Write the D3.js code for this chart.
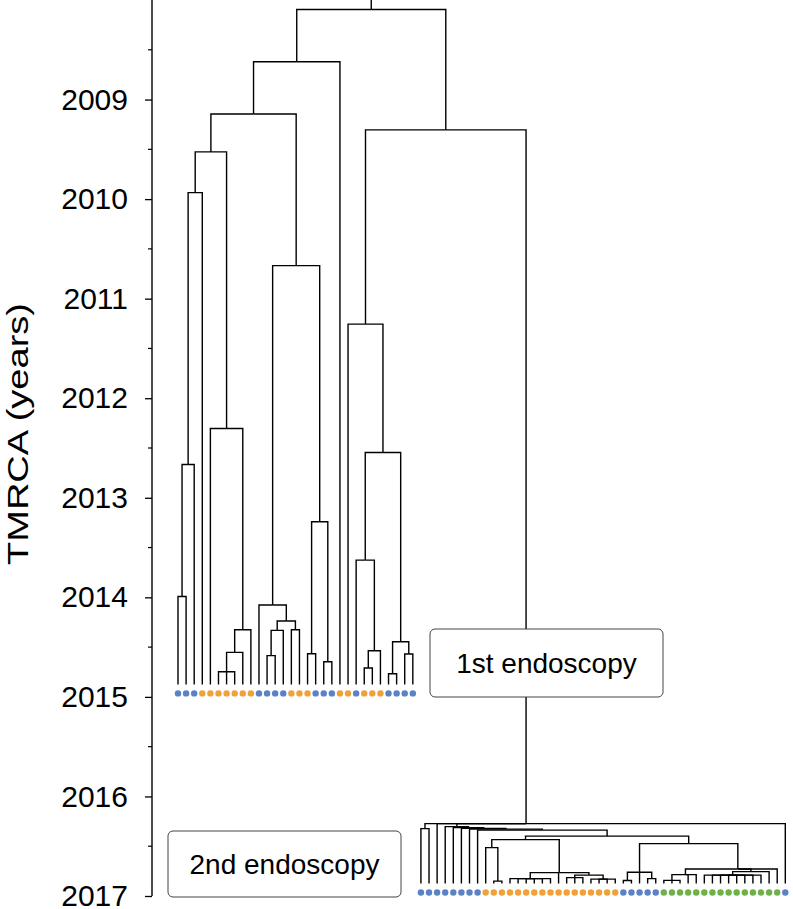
<!DOCTYPE html>
<html><head><meta charset="utf-8">
<script src="https://cdn.jsdelivr.net/npm/d3@7"></script>
<style>body{margin:0;background:#fff}svg{display:block}</style>
</head><body>
<svg id="chart" width="793" height="909"></svg>
<script>
// ---------- data ----------
const yearTicks = [2009, 2010, 2011, 2012, 2013, 2014, 2015, 2016, 2017];
const yearDomain = [2008, 2017];
const axisTitle = "TMRCA (years)";
const boxLabels = ["1st endoscopy", "2nd endoscopy"];
const sampleYears = [2015, 2017];            // sampling date of endoscopy 1 and 2

// internal nodes: [id, parent, year of most recent common ancestor]
const clades = [
  ["root", null, 2008.095],
  ["n1", "root", 2008.62], ["n2", "n1", 2009.145], ["n3", "n2", 2009.526],
  ["n4", "n3", 2009.935], ["n5", "n4", 2012.666], ["n6", "n5", 2013.991],
  ["n7", "n3", 2012.304], ["n8", "n7", 2014.325], ["n9", "n8", 2014.553], ["n10", "n9", 2014.747],
  ["n11", "n2", 2010.668], ["n12", "n11", 2014.077], ["n13", "n12", 2014.238], ["n14", "n13", 2014.332],
  ["n15", "n14", 2014.586], ["n16", "n13", 2014.325], ["n17", "n11", 2013.241],
  ["n18", "n17", 2014.566], ["n19", "n17", 2014.647],
  ["n20", "root", 2009.305], ["n21", "n20", 2011.256], ["n22", "n21", 2012.545], ["n23", "n22", 2013.626],
  ["n24", "n23", 2014.536], ["n25", "n24", 2014.71], ["n26", "n22", 2014.446],
  ["n27", "n26", 2014.767], ["n28", "n26", 2014.569],
  ["t", "n20", 2016.273], ["a", "t", 2016.323], ["f5", "t", 2016.303], ["f4", "f5", 2016.313],
  ["f3", "f4", 2016.321], ["f2", "f3", 2016.328], ["f", "f2", 2016.338], ["e", "f", 2016.399],
  ["g", "e", 2016.434], ["g1", "g", 2016.514], ["g2", "g1", 2016.851], ["r", "g", 2016.765],
  ["q", "r", 2016.825], ["s", "r", 2016.79], ["s1", "s", 2016.815], ["s2", "s", 2016.83],
  ["h", "e", 2016.474], ["v", "h", 2016.762], ["w", "v", 2016.845], ["x", "v", 2016.825],
  ["y", "h", 2016.729], ["z1", "y", 2016.785], ["p1", "z1", 2016.843], ["z2", "y", 2016.755], ["zm", "z2", 2016.79]
];

// leaves in display order: parent clade
const leafParents = [
  "n6","n6","n5","n4","n7","n10","n10","n10","n9","n8",
  "n12","n15","n15","n14","n16","n16","n18","n18","n19","n19",
  "n1","n21","n23","n25","n25","n24","n27","n27","n28","n28",
  "a","a","t","f5","f4","f3","f2","f","g1","g2","g2",
  "q","q","q","q","q","q","r","s1","s1","s1","s2","s2","s2","s2",
  "w","w","v","x","x","p1","p1","p1","z1","z1",
  "zm","zm","zm","zm","zm","zm","zm","zm","z2","y","t"
];
// leaf colour group: B = blue, O = orange, G = green
const leafGroups = [
  "B","B","B","O","O","O","O","O","O","O","B","B","B","B","O","O","O","B","B","B",
  "O","O","B","O","O","O","B","B","B","B",
  "B","B","B","B","B","B","B","B",
  "O","O","O","O","O","O","O","O","O","O","O","O","O","O","O","O","O",
  "B","B","B","B","B",
  "G","G","G","G","G","G","G","G","G","G","G","G","G","G","G",
  "B"
];
// which endoscopy each leaf comes from
const leafVisit = leafParents.map((p, i) => i < 30 ? 1 : 2);

// ---------- drawing ----------
const svg = d3.select("#chart");
const FONT = "'Liberation Sans', Arial, Helvetica, sans-serif";
const colors = {B: "#5b82c6", O: "#f0a23a", G: "#6fb04a"};

const y = d3.scaleLinear().domain(yearDomain).range([0, 896]);
const x = d3.scaleLinear().domain([0, leafParents.length - 1]).range([178, 785.3]);

const rows = clades.map(d => ({id: d[0], parent: d[1], year: d[2]}))
  .concat(leafParents.map((p, i) => ({id: "L" + i, parent: p, leaf: i, group: leafGroups[i], visit: leafVisit[i]})));
const root = d3.stratify().id(d => d.id).parentId(d => d.parent)(rows);

root.eachAfter(n => {
  if (!n.children) { n.order = n.data.leaf; }
  else { n.children.sort((a, b) => a.order - b.order); n.order = d3.min(n.children, c => c.order); }
});
root.eachAfter(n => {
  if (!n.children) {
    n.x = x(n.data.leaf);
    n.dotY = y(sampleYears[n.data.visit - 1]) - 3.5;
    n.yy = n.dotY - 9;
  } else {
    n.x = d3.mean(n.children, c => c.x);
    n.yy = y(n.data.year);
  }
});

// axis
const axis = d3.axisLeft(y).tickValues(yearTicks).tickFormat(d3.format("d")).tickSize(7).tickPadding(17);
const gA = svg.append("g").attr("transform", "translate(152,0)").call(axis);
gA.select(".domain").attr("d", `M0,${y(yearDomain[0])}V${y(yearDomain[1])}`).attr("stroke", "#000").attr("stroke-width", 1.4);
gA.selectAll(".tick line").attr("stroke", "#000").attr("stroke-width", 1.3);
gA.selectAll(".tick text").attr("font-family", FONT).attr("font-size", 30).attr("fill", "#000");
const minor = d3.range(yearDomain[0] + 0.5, yearDomain[1], 1);
gA.selectAll(".minor").data(minor).enter().append("line")
  .attr("x1", -4).attr("x2", 0).attr("y1", d => y(d)).attr("y2", d => y(d))
  .attr("stroke", "#000").attr("stroke-width", 1.2);

svg.append("text").attr("transform", `translate(28,${434}) rotate(-90)`)
  .attr("text-anchor", "middle").attr("font-family", FONT).attr("font-size", 30)
  .attr("textLength", 262).attr("lengthAdjust", "spacingAndGlyphs")
  .text(axisTitle);

// tree
const g = svg.append("g").attr("fill", "none").attr("stroke", "#000").attr("stroke-width", 1.4);
g.selectAll("path.link").data(root.descendants().filter(n => n.parent)).enter().append("path")
  .attr("class", "link")
  .attr("d", n => `M${n.x},${n.yy}V${n.parent.yy}H${n.parent.x}`);
g.append("path").attr("d", `M${root.x},${root.yy}V${y(yearDomain[0])}`);

svg.append("g").selectAll("circle").data(root.leaves()).enter().append("circle")
  .attr("cx", n => n.x).attr("cy", n => n.dotY).attr("r", 3.2)
  .attr("fill", n => colors[n.data.group]);

// endoscopy boxes
const boxes = [{x: 430, y: 629, w: 233, h: 68, label: boxLabels[0]}, {x: 168, y: 831, w: 233, h: 66, label: boxLabels[1]}];
const gb = svg.append("g").selectAll("g").data(boxes).enter().append("g");
gb.append("rect").attr("x", d => d.x).attr("y", d => d.y).attr("width", d => d.w).attr("height", d => d.h)
  .attr("rx", 5).attr("fill", "#fff").attr("stroke", "#444").attr("stroke-width", 1);
gb.append("text").attr("x", d => d.x + d.w / 2).attr("y", d => d.y + d.h / 2 + 10)
  .attr("text-anchor", "middle").attr("font-family", FONT).attr("font-size", 28).text(d => d.label);
</script>
</body></html>
